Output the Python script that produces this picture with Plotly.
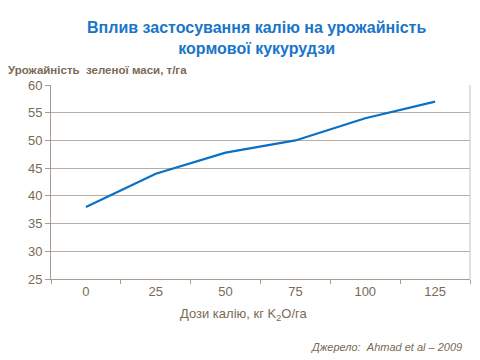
import plotly.graph_objects as go

doses = ["0", "25", "50", "75", "100", "125"]
yields = [38, 44, 47.8, 50, 54, 57]
y_ticks = [25, 30, 35, 40, 45, 50, 55, 60]

title_text = "Вплив застосування калію на урожайність<br>кормової кукурудзи"
y_title = "Урожайність  зеленої маси, т/га"
x_title = "Дози калію, кг K<sub>2</sub>O/га"
source_text = "Джерело:  Ahmad et al – 2009"

text_col = "#7a6a55"
grid_col = "#b8ada0"
axis_col = "#a89c8c"
font_fam = "Liberation Sans, Arial, sans-serif"

# page has an 8px body margin; figure is sized to fit the remaining window
OFF = 8
W, H = 480 - OFF, 360 - OFF
L, R, T, B = 51 - OFF, 10, 85 - OFF, 81
plot_w = W - L - R
plot_h = H - T - B


def px_to_paper(px, py):
    # px, py: page pixel coordinates
    fx, fy = px - OFF, py - OFF
    return (fx - L) / plot_w, (H - B - fy) / plot_h


fig = go.Figure()
fig.add_trace(go.Scatter(
    x=doses, y=yields, mode="lines",
    line=dict(color="#0a70c4", width=2.2),
    showlegend=False, hoverinfo="skip",
))

ann = []
ax, ay = px_to_paper(256, 38)
ann.append(dict(text="<b>" + title_text + "</b>", x=ax, y=ay, xref="paper", yref="paper",
                xanchor="center", yanchor="middle", showarrow=False, align="center",
                font=dict(size=16, color="#1a75c8", family=font_fam)))
ax, ay = px_to_paper(6, 70)
ann.append(dict(text="<b>" + y_title + "</b>", x=ax, y=ay, xref="paper", yref="paper",
                xanchor="left", yanchor="middle", showarrow=False,
                font=dict(size=11.5, color=text_col, family=font_fam)))
ax, ay = px_to_paper(243, 314)
ann.append(dict(text=x_title, x=ax, y=ay, xref="paper", yref="paper",
                xanchor="center", yanchor="middle", showarrow=False,
                font=dict(size=13, color=text_col, family=font_fam)))
ax, ay = px_to_paper(464, 347)
ann.append(dict(text="<i>" + source_text + "</i>", x=ax, y=ay, xref="paper", yref="paper",
                xanchor="right", yanchor="middle", showarrow=False,
                font=dict(size=11, color=text_col, family=font_fam)))

fig.update_layout(
    width=W, height=H,
    margin=dict(l=L, r=R, t=T, b=B),
    paper_bgcolor="white", plot_bgcolor="white",
    font=dict(family=font_fam, color=text_col, size=13),
    annotations=ann,
)

fig.update_xaxes(
    type="category", range=[-0.5, 5.5], tickson="boundaries",
    ticks="outside", ticklen=4, tickcolor=axis_col,
    showline=True, linecolor=axis_col, linewidth=1,
    showgrid=False, automargin=False,
    tickfont=dict(size=13, color=text_col),
)
fig.update_yaxes(
    range=[25, 60], tickvals=y_ticks,
    ticks="outside", ticklen=5, tickcolor=axis_col,
    showline=True, linecolor=axis_col, linewidth=1,
    showgrid=True, gridcolor=grid_col, gridwidth=1,
    zeroline=False, automargin=False,
    tickfont=dict(size=13, color=text_col),
)

fig.add_shape(type="line", xref="paper", yref="paper", x0=1, x1=1, y0=0, y1=1,
              line=dict(color="#c8c0b8", width=1))

fig.write_html("out.html")
